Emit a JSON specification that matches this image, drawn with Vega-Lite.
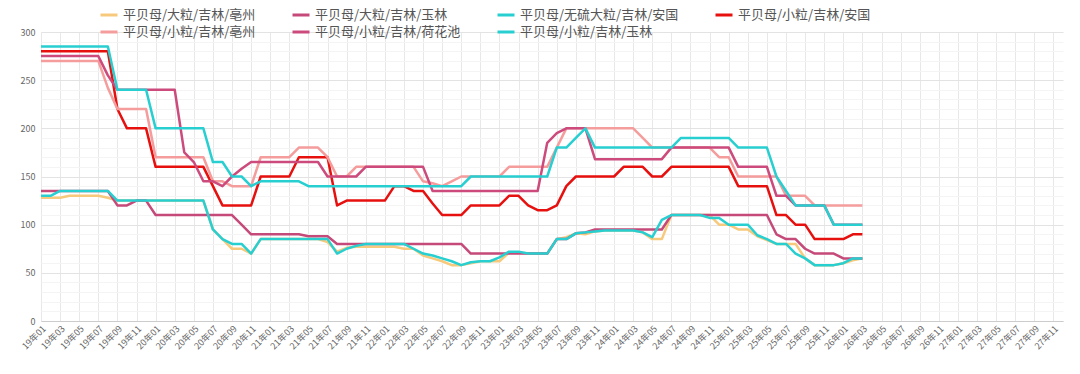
{
"$schema": "https://vega.github.io/schema/vega-lite/v6.json",
"width": 1022,
"height": 289,
"autosize": "none",
"padding": {"left": 41, "top": 32, "right": 17, "bottom": 53},
"background": "white",
"config": {"font": "Noto Sans CJK SC", "view": {"stroke": null}},
"data": {"values": [
{"month":"19年01","series":"平贝母/大粒/吉林/亳州","price":128},{"month":"19年02","series":"平贝母/大粒/吉林/亳州","price":128},{"month":"19年03","series":"平贝母/大粒/吉林/亳州","price":128},{"month":"19年04","series":"平贝母/大粒/吉林/亳州","price":130},{"month":"19年05","series":"平贝母/大粒/吉林/亳州","price":130},{"month":"19年06","series":"平贝母/大粒/吉林/亳州","price":130},{"month":"19年07","series":"平贝母/大粒/吉林/亳州","price":130},{"month":"19年08","series":"平贝母/大粒/吉林/亳州","price":128},{"month":"19年09","series":"平贝母/大粒/吉林/亳州","price":125},{"month":"19年10","series":"平贝母/大粒/吉林/亳州","price":125},{"month":"19年11","series":"平贝母/大粒/吉林/亳州","price":125},{"month":"19年12","series":"平贝母/大粒/吉林/亳州","price":125},
{"month":"20年01","series":"平贝母/大粒/吉林/亳州","price":125},{"month":"20年02","series":"平贝母/大粒/吉林/亳州","price":125},{"month":"20年03","series":"平贝母/大粒/吉林/亳州","price":125},{"month":"20年04","series":"平贝母/大粒/吉林/亳州","price":125},{"month":"20年05","series":"平贝母/大粒/吉林/亳州","price":125},{"month":"20年06","series":"平贝母/大粒/吉林/亳州","price":125},{"month":"20年07","series":"平贝母/大粒/吉林/亳州","price":95},{"month":"20年08","series":"平贝母/大粒/吉林/亳州","price":85},{"month":"20年09","series":"平贝母/大粒/吉林/亳州","price":75},{"month":"20年10","series":"平贝母/大粒/吉林/亳州","price":75},{"month":"20年11","series":"平贝母/大粒/吉林/亳州","price":70},{"month":"20年12","series":"平贝母/大粒/吉林/亳州","price":85},
{"month":"21年01","series":"平贝母/大粒/吉林/亳州","price":85},{"month":"21年02","series":"平贝母/大粒/吉林/亳州","price":85},{"month":"21年03","series":"平贝母/大粒/吉林/亳州","price":85},{"month":"21年04","series":"平贝母/大粒/吉林/亳州","price":85},{"month":"21年05","series":"平贝母/大粒/吉林/亳州","price":85},{"month":"21年06","series":"平贝母/大粒/吉林/亳州","price":85},{"month":"21年07","series":"平贝母/大粒/吉林/亳州","price":82},{"month":"21年08","series":"平贝母/大粒/吉林/亳州","price":72},{"month":"21年09","series":"平贝母/大粒/吉林/亳州","price":76},{"month":"21年10","series":"平贝母/大粒/吉林/亳州","price":77},{"month":"21年11","series":"平贝母/大粒/吉林/亳州","price":77},{"month":"21年12","series":"平贝母/大粒/吉林/亳州","price":77},
{"month":"22年01","series":"平贝母/大粒/吉林/亳州","price":77},{"month":"22年02","series":"平贝母/大粒/吉林/亳州","price":77},{"month":"22年03","series":"平贝母/大粒/吉林/亳州","price":75},{"month":"22年04","series":"平贝母/大粒/吉林/亳州","price":75},{"month":"22年05","series":"平贝母/大粒/吉林/亳州","price":68},{"month":"22年06","series":"平贝母/大粒/吉林/亳州","price":65},{"month":"22年07","series":"平贝母/大粒/吉林/亳州","price":62},{"month":"22年08","series":"平贝母/大粒/吉林/亳州","price":58},{"month":"22年09","series":"平贝母/大粒/吉林/亳州","price":58},{"month":"22年10","series":"平贝母/大粒/吉林/亳州","price":60},{"month":"22年11","series":"平贝母/大粒/吉林/亳州","price":62},{"month":"22年12","series":"平贝母/大粒/吉林/亳州","price":62},
{"month":"23年01","series":"平贝母/大粒/吉林/亳州","price":62},{"month":"23年02","series":"平贝母/大粒/吉林/亳州","price":71},{"month":"23年03","series":"平贝母/大粒/吉林/亳州","price":71},{"month":"23年04","series":"平贝母/大粒/吉林/亳州","price":70},{"month":"23年05","series":"平贝母/大粒/吉林/亳州","price":70},{"month":"23年06","series":"平贝母/大粒/吉林/亳州","price":70},{"month":"23年07","series":"平贝母/大粒/吉林/亳州","price":85},{"month":"23年08","series":"平贝母/大粒/吉林/亳州","price":87},{"month":"23年09","series":"平贝母/大粒/吉林/亳州","price":91},{"month":"23年10","series":"平贝母/大粒/吉林/亳州","price":90},{"month":"23年11","series":"平贝母/大粒/吉林/亳州","price":93},{"month":"23年12","series":"平贝母/大粒/吉林/亳州","price":94},
{"month":"24年01","series":"平贝母/大粒/吉林/亳州","price":94},{"month":"24年02","series":"平贝母/大粒/吉林/亳州","price":94},{"month":"24年03","series":"平贝母/大粒/吉林/亳州","price":94},{"month":"24年04","series":"平贝母/大粒/吉林/亳州","price":92},{"month":"24年05","series":"平贝母/大粒/吉林/亳州","price":85},{"month":"24年06","series":"平贝母/大粒/吉林/亳州","price":85},{"month":"24年07","series":"平贝母/大粒/吉林/亳州","price":110},{"month":"24年08","series":"平贝母/大粒/吉林/亳州","price":110},{"month":"24年09","series":"平贝母/大粒/吉林/亳州","price":110},{"month":"24年10","series":"平贝母/大粒/吉林/亳州","price":110},{"month":"24年11","series":"平贝母/大粒/吉林/亳州","price":110},{"month":"24年12","series":"平贝母/大粒/吉林/亳州","price":100},
{"month":"25年01","series":"平贝母/大粒/吉林/亳州","price":100},{"month":"25年02","series":"平贝母/大粒/吉林/亳州","price":95},{"month":"25年03","series":"平贝母/大粒/吉林/亳州","price":95},{"month":"25年04","series":"平贝母/大粒/吉林/亳州","price":88},{"month":"25年05","series":"平贝母/大粒/吉林/亳州","price":84},{"month":"25年06","series":"平贝母/大粒/吉林/亳州","price":80},{"month":"25年07","series":"平贝母/大粒/吉林/亳州","price":80},{"month":"25年08","series":"平贝母/大粒/吉林/亳州","price":80},{"month":"25年09","series":"平贝母/大粒/吉林/亳州","price":65},{"month":"25年10","series":"平贝母/大粒/吉林/亳州","price":58},{"month":"25年11","series":"平贝母/大粒/吉林/亳州","price":58},{"month":"25年12","series":"平贝母/大粒/吉林/亳州","price":58},
{"month":"26年01","series":"平贝母/大粒/吉林/亳州","price":60},{"month":"26年02","series":"平贝母/大粒/吉林/亳州","price":63},{"month":"26年03","series":"平贝母/大粒/吉林/亳州","price":65},

{"month":"19年01","series":"平贝母/大粒/吉林/玉林","price":135},{"month":"19年02","series":"平贝母/大粒/吉林/玉林","price":135},{"month":"19年03","series":"平贝母/大粒/吉林/玉林","price":135},{"month":"19年04","series":"平贝母/大粒/吉林/玉林","price":135},{"month":"19年05","series":"平贝母/大粒/吉林/玉林","price":135},{"month":"19年06","series":"平贝母/大粒/吉林/玉林","price":135},{"month":"19年07","series":"平贝母/大粒/吉林/玉林","price":135},{"month":"19年08","series":"平贝母/大粒/吉林/玉林","price":135},{"month":"19年09","series":"平贝母/大粒/吉林/玉林","price":120},{"month":"19年10","series":"平贝母/大粒/吉林/玉林","price":120},{"month":"19年11","series":"平贝母/大粒/吉林/玉林","price":125},{"month":"19年12","series":"平贝母/大粒/吉林/玉林","price":125},
{"month":"20年01","series":"平贝母/大粒/吉林/玉林","price":110},{"month":"20年02","series":"平贝母/大粒/吉林/玉林","price":110},{"month":"20年03","series":"平贝母/大粒/吉林/玉林","price":110},{"month":"20年04","series":"平贝母/大粒/吉林/玉林","price":110},{"month":"20年05","series":"平贝母/大粒/吉林/玉林","price":110},{"month":"20年06","series":"平贝母/大粒/吉林/玉林","price":110},{"month":"20年07","series":"平贝母/大粒/吉林/玉林","price":110},{"month":"20年08","series":"平贝母/大粒/吉林/玉林","price":110},{"month":"20年09","series":"平贝母/大粒/吉林/玉林","price":110},{"month":"20年10","series":"平贝母/大粒/吉林/玉林","price":100},{"month":"20年11","series":"平贝母/大粒/吉林/玉林","price":90},{"month":"20年12","series":"平贝母/大粒/吉林/玉林","price":90},
{"month":"21年01","series":"平贝母/大粒/吉林/玉林","price":90},{"month":"21年02","series":"平贝母/大粒/吉林/玉林","price":90},{"month":"21年03","series":"平贝母/大粒/吉林/玉林","price":90},{"month":"21年04","series":"平贝母/大粒/吉林/玉林","price":90},{"month":"21年05","series":"平贝母/大粒/吉林/玉林","price":88},{"month":"21年06","series":"平贝母/大粒/吉林/玉林","price":88},{"month":"21年07","series":"平贝母/大粒/吉林/玉林","price":88},{"month":"21年08","series":"平贝母/大粒/吉林/玉林","price":80},{"month":"21年09","series":"平贝母/大粒/吉林/玉林","price":80},{"month":"21年10","series":"平贝母/大粒/吉林/玉林","price":80},{"month":"21年11","series":"平贝母/大粒/吉林/玉林","price":80},{"month":"21年12","series":"平贝母/大粒/吉林/玉林","price":80},
{"month":"22年01","series":"平贝母/大粒/吉林/玉林","price":80},{"month":"22年02","series":"平贝母/大粒/吉林/玉林","price":80},{"month":"22年03","series":"平贝母/大粒/吉林/玉林","price":80},{"month":"22年04","series":"平贝母/大粒/吉林/玉林","price":80},{"month":"22年05","series":"平贝母/大粒/吉林/玉林","price":80},{"month":"22年06","series":"平贝母/大粒/吉林/玉林","price":80},{"month":"22年07","series":"平贝母/大粒/吉林/玉林","price":80},{"month":"22年08","series":"平贝母/大粒/吉林/玉林","price":80},{"month":"22年09","series":"平贝母/大粒/吉林/玉林","price":80},{"month":"22年10","series":"平贝母/大粒/吉林/玉林","price":70},{"month":"22年11","series":"平贝母/大粒/吉林/玉林","price":70},{"month":"22年12","series":"平贝母/大粒/吉林/玉林","price":70},
{"month":"23年01","series":"平贝母/大粒/吉林/玉林","price":70},{"month":"23年02","series":"平贝母/大粒/吉林/玉林","price":70},{"month":"23年03","series":"平贝母/大粒/吉林/玉林","price":70},{"month":"23年04","series":"平贝母/大粒/吉林/玉林","price":70},{"month":"23年05","series":"平贝母/大粒/吉林/玉林","price":70},{"month":"23年06","series":"平贝母/大粒/吉林/玉林","price":70},{"month":"23年07","series":"平贝母/大粒/吉林/玉林","price":85},{"month":"23年08","series":"平贝母/大粒/吉林/玉林","price":85},{"month":"23年09","series":"平贝母/大粒/吉林/玉林","price":91},{"month":"23年10","series":"平贝母/大粒/吉林/玉林","price":92},{"month":"23年11","series":"平贝母/大粒/吉林/玉林","price":95},{"month":"23年12","series":"平贝母/大粒/吉林/玉林","price":95},
{"month":"24年01","series":"平贝母/大粒/吉林/玉林","price":95},{"month":"24年02","series":"平贝母/大粒/吉林/玉林","price":95},{"month":"24年03","series":"平贝母/大粒/吉林/玉林","price":95},{"month":"24年04","series":"平贝母/大粒/吉林/玉林","price":95},{"month":"24年05","series":"平贝母/大粒/吉林/玉林","price":95},{"month":"24年06","series":"平贝母/大粒/吉林/玉林","price":95},{"month":"24年07","series":"平贝母/大粒/吉林/玉林","price":110},{"month":"24年08","series":"平贝母/大粒/吉林/玉林","price":110},{"month":"24年09","series":"平贝母/大粒/吉林/玉林","price":110},{"month":"24年10","series":"平贝母/大粒/吉林/玉林","price":110},{"month":"24年11","series":"平贝母/大粒/吉林/玉林","price":110},{"month":"24年12","series":"平贝母/大粒/吉林/玉林","price":110},
{"month":"25年01","series":"平贝母/大粒/吉林/玉林","price":110},{"month":"25年02","series":"平贝母/大粒/吉林/玉林","price":110},{"month":"25年03","series":"平贝母/大粒/吉林/玉林","price":110},{"month":"25年04","series":"平贝母/大粒/吉林/玉林","price":110},{"month":"25年05","series":"平贝母/大粒/吉林/玉林","price":110},{"month":"25年06","series":"平贝母/大粒/吉林/玉林","price":90},{"month":"25年07","series":"平贝母/大粒/吉林/玉林","price":85},{"month":"25年08","series":"平贝母/大粒/吉林/玉林","price":85},{"month":"25年09","series":"平贝母/大粒/吉林/玉林","price":75},{"month":"25年10","series":"平贝母/大粒/吉林/玉林","price":70},{"month":"25年11","series":"平贝母/大粒/吉林/玉林","price":70},{"month":"25年12","series":"平贝母/大粒/吉林/玉林","price":70},
{"month":"26年01","series":"平贝母/大粒/吉林/玉林","price":65},{"month":"26年02","series":"平贝母/大粒/吉林/玉林","price":65},{"month":"26年03","series":"平贝母/大粒/吉林/玉林","price":65},

{"month":"19年01","series":"平贝母/无硫大粒/吉林/安国","price":130},{"month":"19年02","series":"平贝母/无硫大粒/吉林/安国","price":130},{"month":"19年03","series":"平贝母/无硫大粒/吉林/安国","price":135},{"month":"19年04","series":"平贝母/无硫大粒/吉林/安国","price":135},{"month":"19年05","series":"平贝母/无硫大粒/吉林/安国","price":135},{"month":"19年06","series":"平贝母/无硫大粒/吉林/安国","price":135},{"month":"19年07","series":"平贝母/无硫大粒/吉林/安国","price":135},{"month":"19年08","series":"平贝母/无硫大粒/吉林/安国","price":135},{"month":"19年09","series":"平贝母/无硫大粒/吉林/安国","price":125},{"month":"19年10","series":"平贝母/无硫大粒/吉林/安国","price":125},{"month":"19年11","series":"平贝母/无硫大粒/吉林/安国","price":125},{"month":"19年12","series":"平贝母/无硫大粒/吉林/安国","price":125},
{"month":"20年01","series":"平贝母/无硫大粒/吉林/安国","price":125},{"month":"20年02","series":"平贝母/无硫大粒/吉林/安国","price":125},{"month":"20年03","series":"平贝母/无硫大粒/吉林/安国","price":125},{"month":"20年04","series":"平贝母/无硫大粒/吉林/安国","price":125},{"month":"20年05","series":"平贝母/无硫大粒/吉林/安国","price":125},{"month":"20年06","series":"平贝母/无硫大粒/吉林/安国","price":125},{"month":"20年07","series":"平贝母/无硫大粒/吉林/安国","price":95},{"month":"20年08","series":"平贝母/无硫大粒/吉林/安国","price":85},{"month":"20年09","series":"平贝母/无硫大粒/吉林/安国","price":80},{"month":"20年10","series":"平贝母/无硫大粒/吉林/安国","price":80},{"month":"20年11","series":"平贝母/无硫大粒/吉林/安国","price":70},{"month":"20年12","series":"平贝母/无硫大粒/吉林/安国","price":85},
{"month":"21年01","series":"平贝母/无硫大粒/吉林/安国","price":85},{"month":"21年02","series":"平贝母/无硫大粒/吉林/安国","price":85},{"month":"21年03","series":"平贝母/无硫大粒/吉林/安国","price":85},{"month":"21年04","series":"平贝母/无硫大粒/吉林/安国","price":85},{"month":"21年05","series":"平贝母/无硫大粒/吉林/安国","price":85},{"month":"21年06","series":"平贝母/无硫大粒/吉林/安国","price":85},{"month":"21年07","series":"平贝母/无硫大粒/吉林/安国","price":85},{"month":"21年08","series":"平贝母/无硫大粒/吉林/安国","price":70},{"month":"21年09","series":"平贝母/无硫大粒/吉林/安国","price":75},{"month":"21年10","series":"平贝母/无硫大粒/吉林/安国","price":78},{"month":"21年11","series":"平贝母/无硫大粒/吉林/安国","price":80},{"month":"21年12","series":"平贝母/无硫大粒/吉林/安国","price":80},
{"month":"22年01","series":"平贝母/无硫大粒/吉林/安国","price":80},{"month":"22年02","series":"平贝母/无硫大粒/吉林/安国","price":80},{"month":"22年03","series":"平贝母/无硫大粒/吉林/安国","price":80},{"month":"22年04","series":"平贝母/无硫大粒/吉林/安国","price":75},{"month":"22年05","series":"平贝母/无硫大粒/吉林/安国","price":70},{"month":"22年06","series":"平贝母/无硫大粒/吉林/安国","price":68},{"month":"22年07","series":"平贝母/无硫大粒/吉林/安国","price":65},{"month":"22年08","series":"平贝母/无硫大粒/吉林/安国","price":62},{"month":"22年09","series":"平贝母/无硫大粒/吉林/安国","price":58},{"month":"22年10","series":"平贝母/无硫大粒/吉林/安国","price":61},{"month":"22年11","series":"平贝母/无硫大粒/吉林/安国","price":62},{"month":"22年12","series":"平贝母/无硫大粒/吉林/安国","price":62},
{"month":"23年01","series":"平贝母/无硫大粒/吉林/安国","price":66},{"month":"23年02","series":"平贝母/无硫大粒/吉林/安国","price":72},{"month":"23年03","series":"平贝母/无硫大粒/吉林/安国","price":72},{"month":"23年04","series":"平贝母/无硫大粒/吉林/安国","price":70},{"month":"23年05","series":"平贝母/无硫大粒/吉林/安国","price":70},{"month":"23年06","series":"平贝母/无硫大粒/吉林/安国","price":70},{"month":"23年07","series":"平贝母/无硫大粒/吉林/安国","price":85},{"month":"23年08","series":"平贝母/无硫大粒/吉林/安国","price":85},{"month":"23年09","series":"平贝母/无硫大粒/吉林/安国","price":91},{"month":"23年10","series":"平贝母/无硫大粒/吉林/安国","price":92},{"month":"23年11","series":"平贝母/无硫大粒/吉林/安国","price":93},{"month":"23年12","series":"平贝母/无硫大粒/吉林/安国","price":94},
{"month":"24年01","series":"平贝母/无硫大粒/吉林/安国","price":94},{"month":"24年02","series":"平贝母/无硫大粒/吉林/安国","price":94},{"month":"24年03","series":"平贝母/无硫大粒/吉林/安国","price":94},{"month":"24年04","series":"平贝母/无硫大粒/吉林/安国","price":92},{"month":"24年05","series":"平贝母/无硫大粒/吉林/安国","price":87},{"month":"24年06","series":"平贝母/无硫大粒/吉林/安国","price":105},{"month":"24年07","series":"平贝母/无硫大粒/吉林/安国","price":110},{"month":"24年08","series":"平贝母/无硫大粒/吉林/安国","price":110},{"month":"24年09","series":"平贝母/无硫大粒/吉林/安国","price":110},{"month":"24年10","series":"平贝母/无硫大粒/吉林/安国","price":110},{"month":"24年11","series":"平贝母/无硫大粒/吉林/安国","price":107},{"month":"24年12","series":"平贝母/无硫大粒/吉林/安国","price":107},
{"month":"25年01","series":"平贝母/无硫大粒/吉林/安国","price":100},{"month":"25年02","series":"平贝母/无硫大粒/吉林/安国","price":100},{"month":"25年03","series":"平贝母/无硫大粒/吉林/安国","price":100},{"month":"25年04","series":"平贝母/无硫大粒/吉林/安国","price":89},{"month":"25年05","series":"平贝母/无硫大粒/吉林/安国","price":85},{"month":"25年06","series":"平贝母/无硫大粒/吉林/安国","price":80},{"month":"25年07","series":"平贝母/无硫大粒/吉林/安国","price":80},{"month":"25年08","series":"平贝母/无硫大粒/吉林/安国","price":70},{"month":"25年09","series":"平贝母/无硫大粒/吉林/安国","price":65},{"month":"25年10","series":"平贝母/无硫大粒/吉林/安国","price":58},{"month":"25年11","series":"平贝母/无硫大粒/吉林/安国","price":58},{"month":"25年12","series":"平贝母/无硫大粒/吉林/安国","price":58},
{"month":"26年01","series":"平贝母/无硫大粒/吉林/安国","price":60},{"month":"26年02","series":"平贝母/无硫大粒/吉林/安国","price":65},{"month":"26年03","series":"平贝母/无硫大粒/吉林/安国","price":65},

{"month":"19年01","series":"平贝母/小粒/吉林/安国","price":280},{"month":"19年02","series":"平贝母/小粒/吉林/安国","price":280},{"month":"19年03","series":"平贝母/小粒/吉林/安国","price":280},{"month":"19年04","series":"平贝母/小粒/吉林/安国","price":280},{"month":"19年05","series":"平贝母/小粒/吉林/安国","price":280},{"month":"19年06","series":"平贝母/小粒/吉林/安国","price":280},{"month":"19年07","series":"平贝母/小粒/吉林/安国","price":280},{"month":"19年08","series":"平贝母/小粒/吉林/安国","price":280},{"month":"19年09","series":"平贝母/小粒/吉林/安国","price":220},{"month":"19年10","series":"平贝母/小粒/吉林/安国","price":200},{"month":"19年11","series":"平贝母/小粒/吉林/安国","price":200},{"month":"19年12","series":"平贝母/小粒/吉林/安国","price":200},
{"month":"20年01","series":"平贝母/小粒/吉林/安国","price":160},{"month":"20年02","series":"平贝母/小粒/吉林/安国","price":160},{"month":"20年03","series":"平贝母/小粒/吉林/安国","price":160},{"month":"20年04","series":"平贝母/小粒/吉林/安国","price":160},{"month":"20年05","series":"平贝母/小粒/吉林/安国","price":160},{"month":"20年06","series":"平贝母/小粒/吉林/安国","price":160},{"month":"20年07","series":"平贝母/小粒/吉林/安国","price":140},{"month":"20年08","series":"平贝母/小粒/吉林/安国","price":120},{"month":"20年09","series":"平贝母/小粒/吉林/安国","price":120},{"month":"20年10","series":"平贝母/小粒/吉林/安国","price":120},{"month":"20年11","series":"平贝母/小粒/吉林/安国","price":120},{"month":"20年12","series":"平贝母/小粒/吉林/安国","price":150},
{"month":"21年01","series":"平贝母/小粒/吉林/安国","price":150},{"month":"21年02","series":"平贝母/小粒/吉林/安国","price":150},{"month":"21年03","series":"平贝母/小粒/吉林/安国","price":150},{"month":"21年04","series":"平贝母/小粒/吉林/安国","price":170},{"month":"21年05","series":"平贝母/小粒/吉林/安国","price":170},{"month":"21年06","series":"平贝母/小粒/吉林/安国","price":170},{"month":"21年07","series":"平贝母/小粒/吉林/安国","price":170},{"month":"21年08","series":"平贝母/小粒/吉林/安国","price":120},{"month":"21年09","series":"平贝母/小粒/吉林/安国","price":125},{"month":"21年10","series":"平贝母/小粒/吉林/安国","price":125},{"month":"21年11","series":"平贝母/小粒/吉林/安国","price":125},{"month":"21年12","series":"平贝母/小粒/吉林/安国","price":125},
{"month":"22年01","series":"平贝母/小粒/吉林/安国","price":125},{"month":"22年02","series":"平贝母/小粒/吉林/安国","price":140},{"month":"22年03","series":"平贝母/小粒/吉林/安国","price":140},{"month":"22年04","series":"平贝母/小粒/吉林/安国","price":135},{"month":"22年05","series":"平贝母/小粒/吉林/安国","price":135},{"month":"22年06","series":"平贝母/小粒/吉林/安国","price":122},{"month":"22年07","series":"平贝母/小粒/吉林/安国","price":110},{"month":"22年08","series":"平贝母/小粒/吉林/安国","price":110},{"month":"22年09","series":"平贝母/小粒/吉林/安国","price":110},{"month":"22年10","series":"平贝母/小粒/吉林/安国","price":120},{"month":"22年11","series":"平贝母/小粒/吉林/安国","price":120},{"month":"22年12","series":"平贝母/小粒/吉林/安国","price":120},
{"month":"23年01","series":"平贝母/小粒/吉林/安国","price":120},{"month":"23年02","series":"平贝母/小粒/吉林/安国","price":130},{"month":"23年03","series":"平贝母/小粒/吉林/安国","price":130},{"month":"23年04","series":"平贝母/小粒/吉林/安国","price":120},{"month":"23年05","series":"平贝母/小粒/吉林/安国","price":115},{"month":"23年06","series":"平贝母/小粒/吉林/安国","price":115},{"month":"23年07","series":"平贝母/小粒/吉林/安国","price":120},{"month":"23年08","series":"平贝母/小粒/吉林/安国","price":140},{"month":"23年09","series":"平贝母/小粒/吉林/安国","price":150},{"month":"23年10","series":"平贝母/小粒/吉林/安国","price":150},{"month":"23年11","series":"平贝母/小粒/吉林/安国","price":150},{"month":"23年12","series":"平贝母/小粒/吉林/安国","price":150},
{"month":"24年01","series":"平贝母/小粒/吉林/安国","price":150},{"month":"24年02","series":"平贝母/小粒/吉林/安国","price":160},{"month":"24年03","series":"平贝母/小粒/吉林/安国","price":160},{"month":"24年04","series":"平贝母/小粒/吉林/安国","price":160},{"month":"24年05","series":"平贝母/小粒/吉林/安国","price":150},{"month":"24年06","series":"平贝母/小粒/吉林/安国","price":150},{"month":"24年07","series":"平贝母/小粒/吉林/安国","price":160},{"month":"24年08","series":"平贝母/小粒/吉林/安国","price":160},{"month":"24年09","series":"平贝母/小粒/吉林/安国","price":160},{"month":"24年10","series":"平贝母/小粒/吉林/安国","price":160},{"month":"24年11","series":"平贝母/小粒/吉林/安国","price":160},{"month":"24年12","series":"平贝母/小粒/吉林/安国","price":160},
{"month":"25年01","series":"平贝母/小粒/吉林/安国","price":160},{"month":"25年02","series":"平贝母/小粒/吉林/安国","price":140},{"month":"25年03","series":"平贝母/小粒/吉林/安国","price":140},{"month":"25年04","series":"平贝母/小粒/吉林/安国","price":140},{"month":"25年05","series":"平贝母/小粒/吉林/安国","price":140},{"month":"25年06","series":"平贝母/小粒/吉林/安国","price":110},{"month":"25年07","series":"平贝母/小粒/吉林/安国","price":110},{"month":"25年08","series":"平贝母/小粒/吉林/安国","price":100},{"month":"25年09","series":"平贝母/小粒/吉林/安国","price":100},{"month":"25年10","series":"平贝母/小粒/吉林/安国","price":85},{"month":"25年11","series":"平贝母/小粒/吉林/安国","price":85},{"month":"25年12","series":"平贝母/小粒/吉林/安国","price":85},
{"month":"26年01","series":"平贝母/小粒/吉林/安国","price":85},{"month":"26年02","series":"平贝母/小粒/吉林/安国","price":90},{"month":"26年03","series":"平贝母/小粒/吉林/安国","price":90},

{"month":"19年01","series":"平贝母/小粒/吉林/亳州","price":270},{"month":"19年02","series":"平贝母/小粒/吉林/亳州","price":270},{"month":"19年03","series":"平贝母/小粒/吉林/亳州","price":270},{"month":"19年04","series":"平贝母/小粒/吉林/亳州","price":270},{"month":"19年05","series":"平贝母/小粒/吉林/亳州","price":270},{"month":"19年06","series":"平贝母/小粒/吉林/亳州","price":270},{"month":"19年07","series":"平贝母/小粒/吉林/亳州","price":270},{"month":"19年08","series":"平贝母/小粒/吉林/亳州","price":242},{"month":"19年09","series":"平贝母/小粒/吉林/亳州","price":220},{"month":"19年10","series":"平贝母/小粒/吉林/亳州","price":220},{"month":"19年11","series":"平贝母/小粒/吉林/亳州","price":220},{"month":"19年12","series":"平贝母/小粒/吉林/亳州","price":220},
{"month":"20年01","series":"平贝母/小粒/吉林/亳州","price":170},{"month":"20年02","series":"平贝母/小粒/吉林/亳州","price":170},{"month":"20年03","series":"平贝母/小粒/吉林/亳州","price":170},{"month":"20年04","series":"平贝母/小粒/吉林/亳州","price":170},{"month":"20年05","series":"平贝母/小粒/吉林/亳州","price":170},{"month":"20年06","series":"平贝母/小粒/吉林/亳州","price":170},{"month":"20年07","series":"平贝母/小粒/吉林/亳州","price":145},{"month":"20年08","series":"平贝母/小粒/吉林/亳州","price":145},{"month":"20年09","series":"平贝母/小粒/吉林/亳州","price":140},{"month":"20年10","series":"平贝母/小粒/吉林/亳州","price":140},{"month":"20年11","series":"平贝母/小粒/吉林/亳州","price":140},{"month":"20年12","series":"平贝母/小粒/吉林/亳州","price":170},
{"month":"21年01","series":"平贝母/小粒/吉林/亳州","price":170},{"month":"21年02","series":"平贝母/小粒/吉林/亳州","price":170},{"month":"21年03","series":"平贝母/小粒/吉林/亳州","price":170},{"month":"21年04","series":"平贝母/小粒/吉林/亳州","price":180},{"month":"21年05","series":"平贝母/小粒/吉林/亳州","price":180},{"month":"21年06","series":"平贝母/小粒/吉林/亳州","price":180},{"month":"21年07","series":"平贝母/小粒/吉林/亳州","price":170},{"month":"21年08","series":"平贝母/小粒/吉林/亳州","price":150},{"month":"21年09","series":"平贝母/小粒/吉林/亳州","price":150},{"month":"21年10","series":"平贝母/小粒/吉林/亳州","price":160},{"month":"21年11","series":"平贝母/小粒/吉林/亳州","price":160},{"month":"21年12","series":"平贝母/小粒/吉林/亳州","price":160},
{"month":"22年01","series":"平贝母/小粒/吉林/亳州","price":160},{"month":"22年02","series":"平贝母/小粒/吉林/亳州","price":160},{"month":"22年03","series":"平贝母/小粒/吉林/亳州","price":160},{"month":"22年04","series":"平贝母/小粒/吉林/亳州","price":160},{"month":"22年05","series":"平贝母/小粒/吉林/亳州","price":145},{"month":"22年06","series":"平贝母/小粒/吉林/亳州","price":143},{"month":"22年07","series":"平贝母/小粒/吉林/亳州","price":140},{"month":"22年08","series":"平贝母/小粒/吉林/亳州","price":145},{"month":"22年09","series":"平贝母/小粒/吉林/亳州","price":150},{"month":"22年10","series":"平贝母/小粒/吉林/亳州","price":150},{"month":"22年11","series":"平贝母/小粒/吉林/亳州","price":150},{"month":"22年12","series":"平贝母/小粒/吉林/亳州","price":150},
{"month":"23年01","series":"平贝母/小粒/吉林/亳州","price":150},{"month":"23年02","series":"平贝母/小粒/吉林/亳州","price":160},{"month":"23年03","series":"平贝母/小粒/吉林/亳州","price":160},{"month":"23年04","series":"平贝母/小粒/吉林/亳州","price":160},{"month":"23年05","series":"平贝母/小粒/吉林/亳州","price":160},{"month":"23年06","series":"平贝母/小粒/吉林/亳州","price":160},{"month":"23年07","series":"平贝母/小粒/吉林/亳州","price":180},{"month":"23年08","series":"平贝母/小粒/吉林/亳州","price":200},{"month":"23年09","series":"平贝母/小粒/吉林/亳州","price":200},{"month":"23年10","series":"平贝母/小粒/吉林/亳州","price":200},{"month":"23年11","series":"平贝母/小粒/吉林/亳州","price":200},{"month":"23年12","series":"平贝母/小粒/吉林/亳州","price":200},
{"month":"24年01","series":"平贝母/小粒/吉林/亳州","price":200},{"month":"24年02","series":"平贝母/小粒/吉林/亳州","price":200},{"month":"24年03","series":"平贝母/小粒/吉林/亳州","price":200},{"month":"24年04","series":"平贝母/小粒/吉林/亳州","price":190},{"month":"24年05","series":"平贝母/小粒/吉林/亳州","price":180},{"month":"24年06","series":"平贝母/小粒/吉林/亳州","price":180},{"month":"24年07","series":"平贝母/小粒/吉林/亳州","price":180},{"month":"24年08","series":"平贝母/小粒/吉林/亳州","price":180},{"month":"24年09","series":"平贝母/小粒/吉林/亳州","price":180},{"month":"24年10","series":"平贝母/小粒/吉林/亳州","price":180},{"month":"24年11","series":"平贝母/小粒/吉林/亳州","price":180},{"month":"24年12","series":"平贝母/小粒/吉林/亳州","price":170},
{"month":"25年01","series":"平贝母/小粒/吉林/亳州","price":170},{"month":"25年02","series":"平贝母/小粒/吉林/亳州","price":150},{"month":"25年03","series":"平贝母/小粒/吉林/亳州","price":150},{"month":"25年04","series":"平贝母/小粒/吉林/亳州","price":150},{"month":"25年05","series":"平贝母/小粒/吉林/亳州","price":150},{"month":"25年06","series":"平贝母/小粒/吉林/亳州","price":150},{"month":"25年07","series":"平贝母/小粒/吉林/亳州","price":130},{"month":"25年08","series":"平贝母/小粒/吉林/亳州","price":130},{"month":"25年09","series":"平贝母/小粒/吉林/亳州","price":130},{"month":"25年10","series":"平贝母/小粒/吉林/亳州","price":120},{"month":"25年11","series":"平贝母/小粒/吉林/亳州","price":120},{"month":"25年12","series":"平贝母/小粒/吉林/亳州","price":120},
{"month":"26年01","series":"平贝母/小粒/吉林/亳州","price":120},{"month":"26年02","series":"平贝母/小粒/吉林/亳州","price":120},{"month":"26年03","series":"平贝母/小粒/吉林/亳州","price":120},

{"month":"19年01","series":"平贝母/小粒/吉林/荷花池","price":275},{"month":"19年02","series":"平贝母/小粒/吉林/荷花池","price":275},{"month":"19年03","series":"平贝母/小粒/吉林/荷花池","price":275},{"month":"19年04","series":"平贝母/小粒/吉林/荷花池","price":275},{"month":"19年05","series":"平贝母/小粒/吉林/荷花池","price":275},{"month":"19年06","series":"平贝母/小粒/吉林/荷花池","price":275},{"month":"19年07","series":"平贝母/小粒/吉林/荷花池","price":275},{"month":"19年08","series":"平贝母/小粒/吉林/荷花池","price":255},{"month":"19年09","series":"平贝母/小粒/吉林/荷花池","price":240},{"month":"19年10","series":"平贝母/小粒/吉林/荷花池","price":240},{"month":"19年11","series":"平贝母/小粒/吉林/荷花池","price":240},{"month":"19年12","series":"平贝母/小粒/吉林/荷花池","price":240},
{"month":"20年01","series":"平贝母/小粒/吉林/荷花池","price":240},{"month":"20年02","series":"平贝母/小粒/吉林/荷花池","price":240},{"month":"20年03","series":"平贝母/小粒/吉林/荷花池","price":240},{"month":"20年04","series":"平贝母/小粒/吉林/荷花池","price":175},{"month":"20年05","series":"平贝母/小粒/吉林/荷花池","price":165},{"month":"20年06","series":"平贝母/小粒/吉林/荷花池","price":145},{"month":"20年07","series":"平贝母/小粒/吉林/荷花池","price":145},{"month":"20年08","series":"平贝母/小粒/吉林/荷花池","price":140},{"month":"20年09","series":"平贝母/小粒/吉林/荷花池","price":150},{"month":"20年10","series":"平贝母/小粒/吉林/荷花池","price":158},{"month":"20年11","series":"平贝母/小粒/吉林/荷花池","price":165},{"month":"20年12","series":"平贝母/小粒/吉林/荷花池","price":165},
{"month":"21年01","series":"平贝母/小粒/吉林/荷花池","price":165},{"month":"21年02","series":"平贝母/小粒/吉林/荷花池","price":165},{"month":"21年03","series":"平贝母/小粒/吉林/荷花池","price":165},{"month":"21年04","series":"平贝母/小粒/吉林/荷花池","price":165},{"month":"21年05","series":"平贝母/小粒/吉林/荷花池","price":165},{"month":"21年06","series":"平贝母/小粒/吉林/荷花池","price":165},{"month":"21年07","series":"平贝母/小粒/吉林/荷花池","price":150},{"month":"21年08","series":"平贝母/小粒/吉林/荷花池","price":150},{"month":"21年09","series":"平贝母/小粒/吉林/荷花池","price":150},{"month":"21年10","series":"平贝母/小粒/吉林/荷花池","price":150},{"month":"21年11","series":"平贝母/小粒/吉林/荷花池","price":160},{"month":"21年12","series":"平贝母/小粒/吉林/荷花池","price":160},
{"month":"22年01","series":"平贝母/小粒/吉林/荷花池","price":160},{"month":"22年02","series":"平贝母/小粒/吉林/荷花池","price":160},{"month":"22年03","series":"平贝母/小粒/吉林/荷花池","price":160},{"month":"22年04","series":"平贝母/小粒/吉林/荷花池","price":160},{"month":"22年05","series":"平贝母/小粒/吉林/荷花池","price":160},{"month":"22年06","series":"平贝母/小粒/吉林/荷花池","price":135},{"month":"22年07","series":"平贝母/小粒/吉林/荷花池","price":135},{"month":"22年08","series":"平贝母/小粒/吉林/荷花池","price":135},{"month":"22年09","series":"平贝母/小粒/吉林/荷花池","price":135},{"month":"22年10","series":"平贝母/小粒/吉林/荷花池","price":135},{"month":"22年11","series":"平贝母/小粒/吉林/荷花池","price":135},{"month":"22年12","series":"平贝母/小粒/吉林/荷花池","price":135},
{"month":"23年01","series":"平贝母/小粒/吉林/荷花池","price":135},{"month":"23年02","series":"平贝母/小粒/吉林/荷花池","price":135},{"month":"23年03","series":"平贝母/小粒/吉林/荷花池","price":135},{"month":"23年04","series":"平贝母/小粒/吉林/荷花池","price":135},{"month":"23年05","series":"平贝母/小粒/吉林/荷花池","price":135},{"month":"23年06","series":"平贝母/小粒/吉林/荷花池","price":185},{"month":"23年07","series":"平贝母/小粒/吉林/荷花池","price":195},{"month":"23年08","series":"平贝母/小粒/吉林/荷花池","price":200},{"month":"23年09","series":"平贝母/小粒/吉林/荷花池","price":200},{"month":"23年10","series":"平贝母/小粒/吉林/荷花池","price":200},{"month":"23年11","series":"平贝母/小粒/吉林/荷花池","price":168},{"month":"23年12","series":"平贝母/小粒/吉林/荷花池","price":168},
{"month":"24年01","series":"平贝母/小粒/吉林/荷花池","price":168},{"month":"24年02","series":"平贝母/小粒/吉林/荷花池","price":168},{"month":"24年03","series":"平贝母/小粒/吉林/荷花池","price":168},{"month":"24年04","series":"平贝母/小粒/吉林/荷花池","price":168},{"month":"24年05","series":"平贝母/小粒/吉林/荷花池","price":168},{"month":"24年06","series":"平贝母/小粒/吉林/荷花池","price":168},{"month":"24年07","series":"平贝母/小粒/吉林/荷花池","price":180},{"month":"24年08","series":"平贝母/小粒/吉林/荷花池","price":180},{"month":"24年09","series":"平贝母/小粒/吉林/荷花池","price":180},{"month":"24年10","series":"平贝母/小粒/吉林/荷花池","price":180},{"month":"24年11","series":"平贝母/小粒/吉林/荷花池","price":180},{"month":"24年12","series":"平贝母/小粒/吉林/荷花池","price":180},
{"month":"25年01","series":"平贝母/小粒/吉林/荷花池","price":180},{"month":"25年02","series":"平贝母/小粒/吉林/荷花池","price":160},{"month":"25年03","series":"平贝母/小粒/吉林/荷花池","price":160},{"month":"25年04","series":"平贝母/小粒/吉林/荷花池","price":160},{"month":"25年05","series":"平贝母/小粒/吉林/荷花池","price":160},{"month":"25年06","series":"平贝母/小粒/吉林/荷花池","price":130},{"month":"25年07","series":"平贝母/小粒/吉林/荷花池","price":130},{"month":"25年08","series":"平贝母/小粒/吉林/荷花池","price":120},{"month":"25年09","series":"平贝母/小粒/吉林/荷花池","price":120},{"month":"25年10","series":"平贝母/小粒/吉林/荷花池","price":120},{"month":"25年11","series":"平贝母/小粒/吉林/荷花池","price":120},{"month":"25年12","series":"平贝母/小粒/吉林/荷花池","price":100},
{"month":"26年01","series":"平贝母/小粒/吉林/荷花池","price":100},{"month":"26年02","series":"平贝母/小粒/吉林/荷花池","price":100},{"month":"26年03","series":"平贝母/小粒/吉林/荷花池","price":100},

{"month":"19年01","series":"平贝母/小粒/吉林/玉林","price":285},{"month":"19年02","series":"平贝母/小粒/吉林/玉林","price":285},{"month":"19年03","series":"平贝母/小粒/吉林/玉林","price":285},{"month":"19年04","series":"平贝母/小粒/吉林/玉林","price":285},{"month":"19年05","series":"平贝母/小粒/吉林/玉林","price":285},{"month":"19年06","series":"平贝母/小粒/吉林/玉林","price":285},{"month":"19年07","series":"平贝母/小粒/吉林/玉林","price":285},{"month":"19年08","series":"平贝母/小粒/吉林/玉林","price":285},{"month":"19年09","series":"平贝母/小粒/吉林/玉林","price":240},{"month":"19年10","series":"平贝母/小粒/吉林/玉林","price":240},{"month":"19年11","series":"平贝母/小粒/吉林/玉林","price":240},{"month":"19年12","series":"平贝母/小粒/吉林/玉林","price":240},
{"month":"20年01","series":"平贝母/小粒/吉林/玉林","price":200},{"month":"20年02","series":"平贝母/小粒/吉林/玉林","price":200},{"month":"20年03","series":"平贝母/小粒/吉林/玉林","price":200},{"month":"20年04","series":"平贝母/小粒/吉林/玉林","price":200},{"month":"20年05","series":"平贝母/小粒/吉林/玉林","price":200},{"month":"20年06","series":"平贝母/小粒/吉林/玉林","price":200},{"month":"20年07","series":"平贝母/小粒/吉林/玉林","price":165},{"month":"20年08","series":"平贝母/小粒/吉林/玉林","price":165},{"month":"20年09","series":"平贝母/小粒/吉林/玉林","price":150},{"month":"20年10","series":"平贝母/小粒/吉林/玉林","price":150},{"month":"20年11","series":"平贝母/小粒/吉林/玉林","price":140},{"month":"20年12","series":"平贝母/小粒/吉林/玉林","price":145},
{"month":"21年01","series":"平贝母/小粒/吉林/玉林","price":145},{"month":"21年02","series":"平贝母/小粒/吉林/玉林","price":145},{"month":"21年03","series":"平贝母/小粒/吉林/玉林","price":145},{"month":"21年04","series":"平贝母/小粒/吉林/玉林","price":145},{"month":"21年05","series":"平贝母/小粒/吉林/玉林","price":140},{"month":"21年06","series":"平贝母/小粒/吉林/玉林","price":140},{"month":"21年07","series":"平贝母/小粒/吉林/玉林","price":140},{"month":"21年08","series":"平贝母/小粒/吉林/玉林","price":140},{"month":"21年09","series":"平贝母/小粒/吉林/玉林","price":140},{"month":"21年10","series":"平贝母/小粒/吉林/玉林","price":140},{"month":"21年11","series":"平贝母/小粒/吉林/玉林","price":140},{"month":"21年12","series":"平贝母/小粒/吉林/玉林","price":140},
{"month":"22年01","series":"平贝母/小粒/吉林/玉林","price":140},{"month":"22年02","series":"平贝母/小粒/吉林/玉林","price":140},{"month":"22年03","series":"平贝母/小粒/吉林/玉林","price":140},{"month":"22年04","series":"平贝母/小粒/吉林/玉林","price":140},{"month":"22年05","series":"平贝母/小粒/吉林/玉林","price":140},{"month":"22年06","series":"平贝母/小粒/吉林/玉林","price":140},{"month":"22年07","series":"平贝母/小粒/吉林/玉林","price":140},{"month":"22年08","series":"平贝母/小粒/吉林/玉林","price":140},{"month":"22年09","series":"平贝母/小粒/吉林/玉林","price":140},{"month":"22年10","series":"平贝母/小粒/吉林/玉林","price":150},{"month":"22年11","series":"平贝母/小粒/吉林/玉林","price":150},{"month":"22年12","series":"平贝母/小粒/吉林/玉林","price":150},
{"month":"23年01","series":"平贝母/小粒/吉林/玉林","price":150},{"month":"23年02","series":"平贝母/小粒/吉林/玉林","price":150},{"month":"23年03","series":"平贝母/小粒/吉林/玉林","price":150},{"month":"23年04","series":"平贝母/小粒/吉林/玉林","price":150},{"month":"23年05","series":"平贝母/小粒/吉林/玉林","price":150},{"month":"23年06","series":"平贝母/小粒/吉林/玉林","price":150},{"month":"23年07","series":"平贝母/小粒/吉林/玉林","price":180},{"month":"23年08","series":"平贝母/小粒/吉林/玉林","price":180},{"month":"23年09","series":"平贝母/小粒/吉林/玉林","price":190},{"month":"23年10","series":"平贝母/小粒/吉林/玉林","price":200},{"month":"23年11","series":"平贝母/小粒/吉林/玉林","price":180},{"month":"23年12","series":"平贝母/小粒/吉林/玉林","price":180},
{"month":"24年01","series":"平贝母/小粒/吉林/玉林","price":180},{"month":"24年02","series":"平贝母/小粒/吉林/玉林","price":180},{"month":"24年03","series":"平贝母/小粒/吉林/玉林","price":180},{"month":"24年04","series":"平贝母/小粒/吉林/玉林","price":180},{"month":"24年05","series":"平贝母/小粒/吉林/玉林","price":180},{"month":"24年06","series":"平贝母/小粒/吉林/玉林","price":180},{"month":"24年07","series":"平贝母/小粒/吉林/玉林","price":180},{"month":"24年08","series":"平贝母/小粒/吉林/玉林","price":190},{"month":"24年09","series":"平贝母/小粒/吉林/玉林","price":190},{"month":"24年10","series":"平贝母/小粒/吉林/玉林","price":190},{"month":"24年11","series":"平贝母/小粒/吉林/玉林","price":190},{"month":"24年12","series":"平贝母/小粒/吉林/玉林","price":190},
{"month":"25年01","series":"平贝母/小粒/吉林/玉林","price":190},{"month":"25年02","series":"平贝母/小粒/吉林/玉林","price":180},{"month":"25年03","series":"平贝母/小粒/吉林/玉林","price":180},{"month":"25年04","series":"平贝母/小粒/吉林/玉林","price":180},{"month":"25年05","series":"平贝母/小粒/吉林/玉林","price":180},{"month":"25年06","series":"平贝母/小粒/吉林/玉林","price":150},{"month":"25年07","series":"平贝母/小粒/吉林/玉林","price":135},{"month":"25年08","series":"平贝母/小粒/吉林/玉林","price":120},{"month":"25年09","series":"平贝母/小粒/吉林/玉林","price":120},{"month":"25年10","series":"平贝母/小粒/吉林/玉林","price":120},{"month":"25年11","series":"平贝母/小粒/吉林/玉林","price":120},{"month":"25年12","series":"平贝母/小粒/吉林/玉林","price":100},
{"month":"26年01","series":"平贝母/小粒/吉林/玉林","price":100},{"month":"26年02","series":"平贝母/小粒/吉林/玉林","price":100},{"month":"26年03","series":"平贝母/小粒/吉林/玉林","price":100}
]},
"mark": {"type": "line", "strokeWidth": 2.5, "strokeJoin": "round"},
"encoding": {
"x": {"field": "month", "type": "ordinal", "sort": null,
 "scale": {"type": "point", "padding": 0, "domain": ["19年01","19年02","19年03","19年04","19年05","19年06","19年07","19年08","19年09","19年10","19年11","19年12","20年01","20年02","20年03","20年04","20年05","20年06","20年07","20年08","20年09","20年10","20年11","20年12","21年01","21年02","21年03","21年04","21年05","21年06","21年07","21年08","21年09","21年10","21年11","21年12","22年01","22年02","22年03","22年04","22年05","22年06","22年07","22年08","22年09","22年10","22年11","22年12","23年01","23年02","23年03","23年04","23年05","23年06","23年07","23年08","23年09","23年10","23年11","23年12","24年01","24年02","24年03","24年04","24年05","24年06","24年07","24年08","24年09","24年10","24年11","24年12","25年01","25年02","25年03","25年04","25年05","25年06","25年07","25年08","25年09","25年10","25年11","25年12","26年01","26年02","26年03","26年04","26年05","26年06","26年07","26年08","26年09","26年10","26年11","26年12","27年01","27年02","27年03","27年04","27年05","27年06","27年07","27年08","27年09","27年10","27年11","27年12"]},
 "axis": {"title": null, "values": ["19年01","19年03","19年05","19年07","19年09","19年11","20年01","20年03","20年05","20年07","20年09","20年11","21年01","21年03","21年05","21年07","21年09","21年11","22年01","22年03","22年05","22年07","22年09","22年11","23年01","23年03","23年05","23年07","23年09","23年11","24年01","24年03","24年05","24年07","24年09","24年11","25年01","25年03","25年05","25年07","25年09","25年11","26年01","26年03","26年05","26年07","26年09","26年11","27年01","27年03","27年05","27年07","27年09","27年11"],
  "labelAngle": -45, "labelAlign": "right", "labelBaseline": "top", "labelFontSize": 9, "labelColor": "#666666", "labelPadding": 3,
  "domainColor": "#cccccc", "ticks": false, "grid": true, "gridColor": "#e8e8e8", "labelOverlap": false}},
"y": {"field": "price", "type": "quantitative",
 "scale": {"domain": [0, 300], "nice": false, "zero": true},
 "axis": {"title": null, "values": [0,10,20,30,40,50,60,70,80,90,100,110,120,130,140,150,160,170,180,190,200,210,220,230,240,250,260,270,280,290,300],
  "labelExpr": "datum.value % 50 === 0 ? datum.label : ''",
  "gridColor": {"condition": {"test": "datum.value % 50 === 0", "value": "#e3e3e3"}, "value": "#f4f4f4"},
  "domain": false, "ticks": false, "labelFontSize": 9, "labelColor": "#666666", "labelPadding": 6}},
"color": {"field": "series", "type": "nominal",
 "scale": {"domain": ["平贝母/大粒/吉林/亳州","平贝母/大粒/吉林/玉林","平贝母/无硫大粒/吉林/安国","平贝母/小粒/吉林/安国","平贝母/小粒/吉林/亳州","平贝母/小粒/吉林/荷花池","平贝母/小粒/吉林/玉林"],
  "range": ["#f7c97c","#c54a7a","#28cfd1","#e6100f","#f59c9c","#cc4b7c","#28cfd1"]},
 "legend": {"title": null, "orient": "none", "legendX": 58, "legendY": -27, "direction": "horizontal", "columns": 4, "columnPadding": 30, "rowPadding": 0, "padding": 0,
  "symbolType": "stroke", "symbolSize": 289, "symbolStrokeWidth": 3, "labelFontSize": 13, "labelColor": "#555555", "labelLimit": 400, "labelOffset": 4}}
}
}
